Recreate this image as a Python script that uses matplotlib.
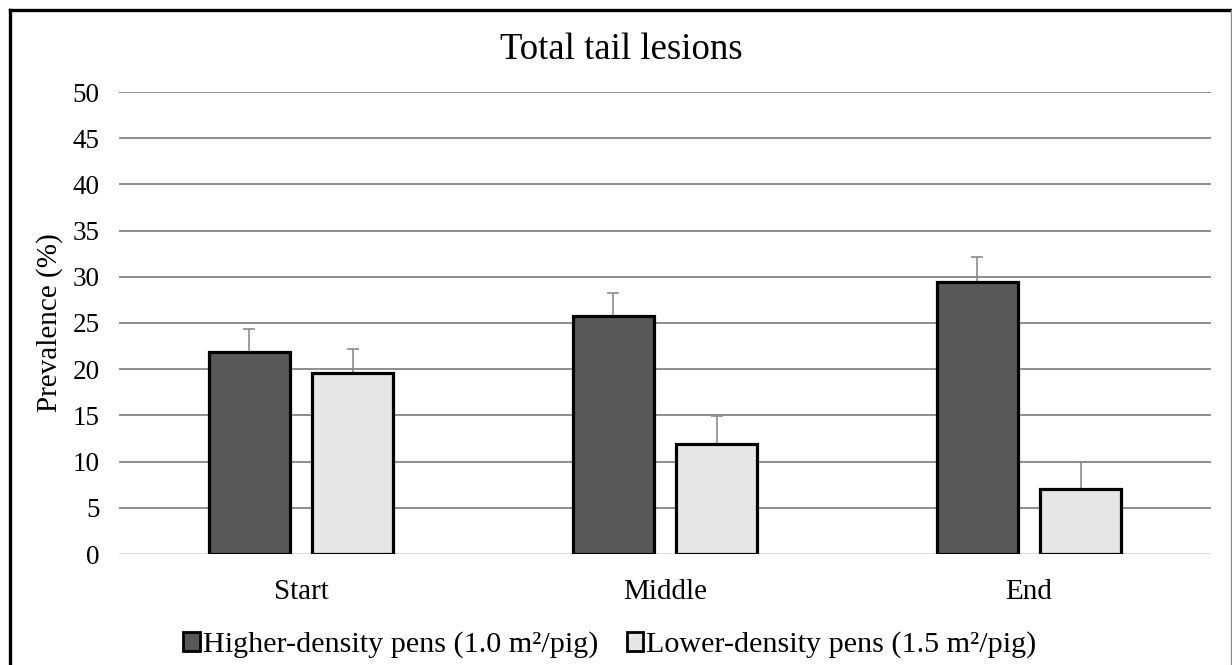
import matplotlib
matplotlib.use("Agg")
import matplotlib.pyplot as plt
import numpy as np
from matplotlib.patches import Patch
from matplotlib.lines import Line2D

categories = ["Start", "Middle", "End"]
high_density = [21.9, 25.8, 29.4]
high_err = [2.5, 2.4, 2.7]
low_density = [19.6, 11.9, 7.0]
low_err = [2.6, 3.0, 3.0]
series_labels = ["Higher-density pens (1.0 m\u00b2/pig)", "Lower-density pens (1.5 m\u00b2/pig)"]
yticks = [0, 5, 10, 15, 20, 25, 30, 35, 40, 45, 50]

plt.rcParams['font.family'] = ['Liberation Serif', 'DejaVu Serif']

W, H = 1232, 665
fig = plt.figure(figsize=(W / 100, H / 100), dpi=100)
ax = fig.add_axes([119 / W, 1 - 554 / H, (1211 - 119) / W, (554 - 92) / H])

x = np.arange(len(categories))
bw = 0.2225
off = 0.1426
dark = "#595959"
light = "#e7e6e6"

ax.bar(x - off, high_density, bw, color=dark, edgecolor="black", linewidth=2.3, zorder=3)
ax.bar(x + off, low_density, bw, color=light, edgecolor="black", linewidth=2.3, zorder=3)
ax.errorbar(x - off, high_density, yerr=[np.zeros(3), high_err], fmt="none",
            ecolor="#8c8c8c", elinewidth=1.2, capsize=4.5, capthick=1.2, zorder=2)
ax.errorbar(x + off, low_density, yerr=[np.zeros(3), low_err], fmt="none",
            ecolor="#8c8c8c", elinewidth=1.2, capsize=4.5, capthick=1.2, zorder=2)

ax.set_xlim(-0.5, 2.5)
ax.set_ylim(0, 50)
ax.set_yticks(yticks)
ax.set_yticklabels([str(t) for t in yticks], fontsize=19.5)
ax.set_xticks(x)
ax.set_xticklabels(categories, fontsize=21)
ax.tick_params(axis="both", length=0)
ax.tick_params(axis="y", pad=14)
ax.tick_params(axis="x", pad=18)
for s in ax.spines.values():
    s.set_visible(False)
for t in yticks:
    ax.axhline(t, color="#d9d9d9" if t == 0 else "#858585", linewidth=1.3, zorder=1)
ax.set_ylabel("Prevalence (%)", fontsize=21, labelpad=2)
ax.yaxis.set_label_coords(-0.051, 0.5)

fig.text(621 / W, 1 - 50 / H, "Total tail lesions", fontsize=26.5, ha="center", va="center")

handles = [Patch(facecolor=dark, edgecolor="black", linewidth=2.0),
           Patch(facecolor=light, edgecolor="black", linewidth=2.0)]
fig.legend(handles, series_labels, loc="center", bbox_to_anchor=(610 / W, 1 - 645 / H),
           ncol=2, frameon=False, fontsize=21.7, handlelength=0.55, handleheight=0.55,
           handletextpad=0.1, columnspacing=0.95, borderpad=0)

# outer frame (cropped at bottom and right)
fig.add_artist(Line2D([10 / W, 1], [1 - 10 / H, 1 - 10 / H], transform=fig.transFigure,
                      color="black", linewidth=2.4))
fig.add_artist(Line2D([10 / W, 10 / W], [0, 1 - 10 / H], transform=fig.transFigure,
                      color="black", linewidth=2.4))
fig.add_artist(Line2D([1230.5 / W, 1230.5 / W], [0, 1 - 10 / H], transform=fig.transFigure,
                      color="#8c8c8c", linewidth=1.0))

fig.savefig("out.png", dpi=100)
